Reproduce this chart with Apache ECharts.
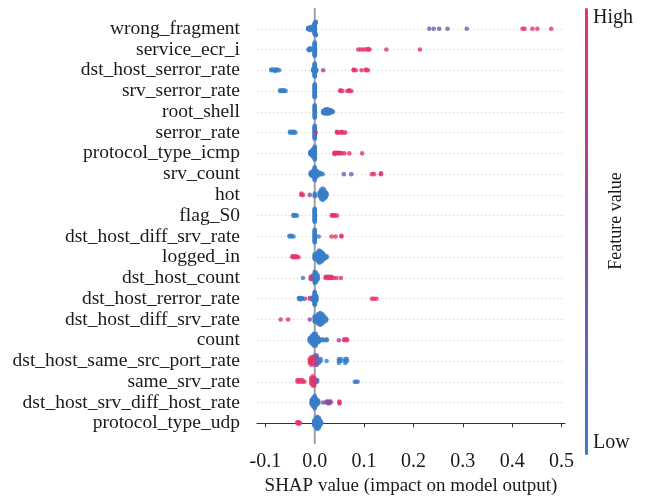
<!DOCTYPE html>
<html>
<head>
<meta charset="utf-8">
<script src="https://cdn.jsdelivr.net/npm/echarts@6/dist/echarts.min.js"></script>
<style>
  html, body { margin: 0; padding: 0; background: #fff; }
  #main { width: 650px; height: 501px; }
</style>
</head>
<body>
<div id="main"></div>
<script>
// features, top to bottom
const features = [
  "wrong_fragment", "service_ecr_i", "dst_host_serror_rate", "srv_serror_rate",
  "root_shell", "serror_rate", "protocol_type_icmp", "srv_count", "hot", "flag_S0",
  "dst_host_diff_srv_rate", "logged_in", "dst_host_count", "dst_host_rerror_rate",
  "dst_host_diff_srv_rate", "count", "dst_host_same_src_port_rate", "same_srv_rate",
  "dst_host_srv_diff_host_rate", "protocol_type_udp"
];

// [shap value, feature value (0 low .. 1 high), how many points]
const wrongFragment = [[-0.013, 0, 4], [-0.010, 0, 5], [-0.007, 0, 3], [0, 0, 24], [0.002, 0, 6],
  [0.232, 0.3, 1], [0.241, 0.3, 1], [0.252, 0.3, 1], [0.269, 0.3, 1], [0.308, 0.3, 1],
  [0.421, 1, 1], [0.425, 1, 1], [0.441, 1, 1], [0.451, 1, 1], [0.479, 1, 1]];
const serviceEcrI = [[-0.012, 0, 3], [-0.009, 0, 4], [0, 0, 24],
  [0.088, 1, 1], [0.093, 1, 1], [0.098, 1, 1], [0.103, 1, 1], [0.108, 1, 2], [0.111, 1, 1],
  [0.145, 1, 1], [0.213, 1, 1]];
const dstHostSerrorRate = [[-0.088, 0, 2], [-0.084, 0, 2], [-0.080, 0, 3], [-0.076, 0, 2], [-0.072, 0, 1],
  [-0.003, 0, 4], [0, 0, 20], [0.003, 0, 3], [0.017, 0.55, 1],
  [0.079, 1, 2], [0.083, 1, 1], [0.095, 1, 1], [0.104, 1, 2], [0.108, 1, 1]];
const srvSerrorRate = [[-0.070, 0, 2], [-0.066, 0, 2], [-0.062, 0, 2], [-0.059, 0, 1], [0, 0, 20],
  [0.052, 1, 2], [0.056, 1, 1], [0.066, 1, 1], [0.070, 1, 2], [0.074, 1, 1]];
const rootShell = [[0, 0, 16], [0.017, 0, 3], [0.020, 0, 5], [0.023, 0, 6], [0.026, 0, 6],
  [0.029, 0, 5], [0.032, 0, 4], [0.035, 0, 2], [0.037, 0, 1]];
const serrorRate = [[-0.050, 0, 2], [-0.046, 0, 2], [-0.042, 0, 2], [-0.039, 0, 1], [0, 0, 20],
  [0.002, 0.85, 1], [0.045, 1, 2], [0.049, 1, 1], [0.054, 1, 2], [0.058, 1, 1], [0.062, 1, 1]];
const protocolTypeIcmp = [[-0.009, 0, 4], [-0.006, 0, 8], [-0.003, 0, 12], [0, 0, 20],
  [0.040, 1, 3], [0.043, 1, 2], [0.047, 1, 2], [0.051, 1, 2], [0.055, 1, 1], [0.060, 1, 1],
  [0.070, 1, 1], [0.096, 1, 1]];
const srvCount = [[-0.008, 0, 4], [-0.004, 0, 8], [0, 0, 18], [0.004, 0, 8], [0.008, 0, 4],
  [0.012, 0, 2], [0.016, 0, 1], [0.059, 0.25, 1], [0.074, 0.25, 1],
  [0.116, 1, 1], [0.120, 1, 1], [0.134, 1, 2]];
const hot = [[-0.027, 1, 2], [-0.024, 1, 1], [-0.010, 0.5, 1], [0, 0, 3],
  [0.010, 0, 4], [0.013, 0, 8], [0.016, 0, 10], [0.019, 0, 8], [0.022, 0, 5], [0.024, 0, 2]];
const flagS0 = [[-0.043, 0, 2], [-0.040, 0, 2], [-0.036, 0, 1], [0, 0, 20],
  [0.035, 1, 2], [0.040, 1, 2], [0.045, 1, 1]];
const dstHostDiffSrvRate = [[-0.051, 0, 2], [-0.047, 0, 2], [-0.043, 0, 1], [0, 0, 18], [0.008, 0, 1],
  [0.034, 1, 1], [0.042, 1, 1], [0.054, 1, 2]];
const loggedIn = [[-0.045, 1, 2], [-0.041, 1, 2], [-0.037, 1, 2], [-0.033, 1, 1], [0, 0, 6],
  [0.003, 0, 6], [0.006, 0, 10], [0.009, 0, 14], [0.012, 0, 12], [0.015, 0, 10],
  [0.018, 0, 6], [0.021, 0, 3], [0.024, 0, 2]];
const dstHostCount = [[-0.024, 0, 1], [-0.008, 1, 3], [-0.004, 0.9, 4], [-0.001, 0.5, 2],
  [0, 0, 10], [0.003, 0, 8], [0.006, 0, 4],
  [0.022, 1, 2], [0.026, 1, 2], [0.030, 1, 2], [0.034, 1, 2], [0.038, 1, 1], [0.044, 1, 1], [0.053, 1, 1]];
const dstHostRerrorRate = [[-0.032, 0, 2], [-0.029, 0, 3], [-0.026, 0, 2], [-0.020, 0.5, 1],
  [-0.010, 1, 2], [-0.004, 0, 5], [0, 0, 20], [0.003, 0, 8],
  [0.116, 1, 1], [0.120, 1, 1], [0.125, 1, 1]];
const dstHostDiffSrvRate2 = [[-0.069, 1, 1], [-0.054, 1, 1], [-0.010, 0.5, 1], [0, 0, 6],
  [0.003, 0, 6], [0.007, 0, 10], [0.011, 0, 12], [0.015, 0, 10], [0.019, 0, 6], [0.023, 0, 3]];
const count = [[-0.010, 0, 4], [-0.006, 0, 8], [-0.002, 0, 12], [0.002, 0, 12], [0.006, 0, 6],
  [0.009, 0, 3], [0.015, 0, 2], [0.020, 0, 1], [0.024, 0, 2],
  [0.049, 0.5, 1], [0.060, 1, 2], [0.065, 1, 2]];
const dstHostSameSrcPortRate = [[0, 0, 6], [0.004, 0, 4], [0.008, 0, 3], [0.012, 0, 2],
  [-0.010, 1, 3], [-0.007, 1, 5], [-0.004, 1, 4], [-0.001, 1, 3], [0.004, 0.5, 2],
  [0.024, 0, 1], [0.049, 0, 3], [0.053, 0, 2], [0.062, 0, 3], [0.065, 0, 2]];
const sameSrvRate = [[-0.035, 1, 2], [-0.030, 1, 2], [-0.025, 1, 2], [-0.021, 1, 1],
  [0.005, 0, 2], [-0.007, 1, 4], [-0.004, 1, 6], [-0.001, 1, 5], [0.002, 0.8, 2],
  [0.081, 0, 1], [0.084, 0, 1], [0.087, 0, 1]];
const dstHostSrvDiffHostRate = [[-0.006, 0, 6], [-0.003, 0, 10], [0, 0, 14], [0.003, 0, 8], [0.007, 0, 4],
  [0.017, 0.45, 1], [0.024, 0.5, 2], [0.028, 0.5, 3], [0.032, 0.5, 2], [0.050, 1, 3]];
const protocolTypeUdp = [[-0.035, 1, 2], [-0.032, 1, 2], [-0.030, 1, 1],
  [-0.001, 0, 6], [0.002, 0, 10], [0.005, 0, 14], [0.008, 0, 12], [0.011, 0, 6], [0.013, 0, 2]];

const rows = [wrongFragment, serviceEcrI, dstHostSerrorRate, srvSerrorRate, rootShell,
  serrorRate, protocolTypeIcmp, srvCount, hot, flagS0, dstHostDiffSrvRate, loggedIn,
  dstHostCount, dstHostRerrorRate, dstHostDiffSrvRate2, count, dstHostSameSrcPortRate,
  sameSrvRate, dstHostSrvDiffHostRate, protocolTypeUdp];

const xTicks = [-0.1, 0, 0.1, 0.2, 0.3, 0.4, 0.5];

const FONT = "Liberation Serif";

// shap-style beeswarm: points in the same bin get stacked up/down around the row
function beeswarm(row, pos) {
  const pts = [];
  row.forEach((p) => {
    for (let k = 0; k < (p[2] || 1); k++) pts.push([p[0], p[1]]);
  });
  const vals = pts.map((p) => p[0]);
  const lo = Math.min(...vals);
  const hi = Math.max(...vals);
  const quant = vals.map((v) => Math.round((100 * (v - lo)) / (hi - lo + 1e-8)));
  const order = pts.map((p, i) => i).sort((a, b) => quant[a] - quant[b] || a - b);
  const ys = new Array(pts.length).fill(0);
  let layer = 0;
  let last = -1;
  order.forEach((i) => {
    if (quant[i] !== last) layer = 0;
    ys[i] = Math.ceil(layer / 2) * ((layer % 2) * 2 - 1);
    layer++;
    last = quant[i];
  });
  const m = Math.max(...ys.map((y) => y + 1));
  return pts.map((p, i) => [p[0], pos + (ys[i] * 0.9 * 0.4) / m, p[1]]);
}

const n = features.length;
let scatterData = [];
rows.forEach((row, i) => {
  scatterData = scatterData.concat(beeswarm(row, n - 1 - i));
});

const chart = echarts.init(document.getElementById("main"));
chart.setOption({
  animation: false,
  textStyle: { fontFamily: FONT },
  grid: { left: 257, top: 8, width: 308, height: 444 },
  xAxis: {
    type: "value",
    min: -0.117,
    max: 0.507,
    name: "SHAP value (impact on model output)",
    nameLocation: "middle",
    nameGap: 31,
    nameTextStyle: { fontSize: 19, color: "#1a1a1a", fontFamily: FONT },
    axisLine: { lineStyle: { color: "#333", width: 1 } },
    axisTick: { customValues: xTicks, length: 4, lineStyle: { color: "#333" } },
    axisLabel: {
      customValues: xTicks,
      fontSize: 20,
      margin: 8,
      color: "#1a1a1a",
      fontFamily: FONT,
      formatter: (v) => v.toFixed(1),
    },
    splitLine: { show: false },
  },
  yAxis: {
    type: "value",
    min: -1,
    max: n,
    interval: 1,
    axisLine: { show: false },
    axisTick: { show: false },
    axisLabel: {
      fontSize: 19.5,
      margin: 17,
      color: "#1a1a1a",
      fontFamily: FONT,
      formatter: (v) => (v >= 0 && v < n ? features[n - 1 - v] : ""),
    },
    splitLine: {
      show: true,
      showMinLine: false,
      showMaxLine: false,
      lineStyle: { color: "#c8c8c8", type: [1, 3], width: 1 },
    },
  },
  visualMap: {
    type: "continuous",
    seriesIndex: 0,
    dimension: 2,
    min: 0,
    max: 1,
    orient: "vertical",
    left: 585,
    top: 8,
    itemWidth: 3,
    itemHeight: 447,
    padding: 0,
    calculable: false,
    hoverLink: false,
    inRange: { color: ["#3a7ec8", "#8a4b9f", "#e6336b"] },
  },
  graphic: [
    { type: "text", left: 593, top: 8, style: { text: "High", font: "20px " + FONT, fill: "#1a1a1a" } },
    { type: "text", left: 593, top: 433, style: { text: "Low", font: "20px " + FONT, fill: "#1a1a1a" } },
    {
      type: "text",
      x: 616,
      y: 221,
      rotation: Math.PI / 2,
      style: {
        text: "Feature value",
        font: "18px " + FONT,
        fill: "#1a1a1a",
        align: "center",
        verticalAlign: "middle",
      },
    },
  ],
  series: [
    {
      type: "scatter",
      data: scatterData,
      symbolSize: 4.6,
      z: 3,
      silent: true,
    },
    {
      // zero reference line
      type: "line",
      data: [[0, -1], [0, n]],
      symbol: "none",
      lineStyle: { color: "#a0a0a0", width: 2 },
      z: 1,
      silent: true,
    },
  ],
});
</script>
</body>
</html>
